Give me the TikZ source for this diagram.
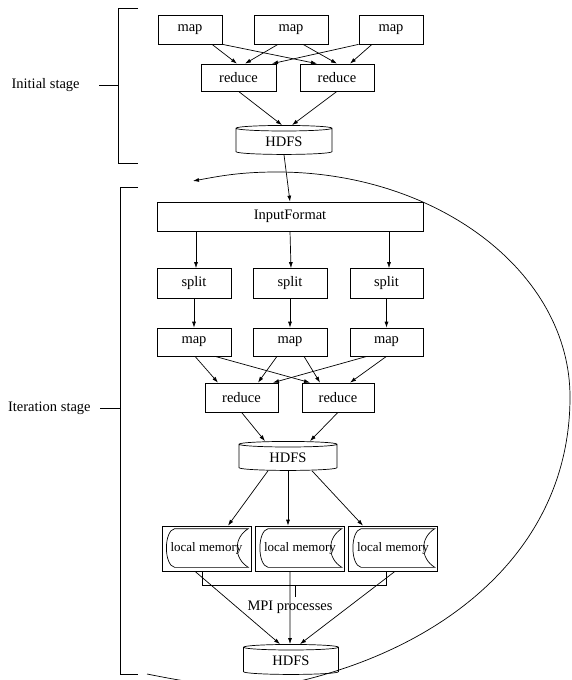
\documentclass[tikz,border=0pt]{standalone}
\usepackage{fontspec}
\setmainfont{Liberation Serif}
\usetikzlibrary{positioning,calc,arrows,arrows.meta,shapes.geometric}
\tikzset{>={Latex[length=6pt,width=4pt]}}
\tikzset{boxnode/.style={draw,rectangle,minimum height=29pt,inner sep=0pt}}
\tikzset{dbnode/.style={draw,cylinder,shape border rotate=90,aspect=0.15,minimum width=96pt,minimum height=29pt,inner sep=0pt}}
\tikzset{memnode/.style={draw,rectangle,minimum width=89pt,minimum height=45pt,inner sep=0pt,font=\fontsize{13}{15}\selectfont}}
\tikzset{stagelabel/.style={inner sep=0pt,anchor=east}}

\begin{document}
\begin{tikzpicture}[x=1pt,y=-1pt,line width=0.7pt,font=\fontsize{14.5}{17}\selectfont]
	\useasboundingbox (0,0) rectangle (571,680);

	% initial stage
	\node[boxnode,minimum width=64pt] (map1) at (190,29.5) {map};
	\node[boxnode,minimum width=74pt] (map2) at (291,29.5) {map};
	\node[boxnode,minimum width=64pt] (map3) at (391,29.5) {map};
	\node[boxnode,minimum width=75pt,minimum height=27pt] (red1) at (238.5,77.5) {reduce};
	\node[boxnode,minimum width=74pt,minimum height=27pt] (red2) at (337,77.5) {reduce};
	\node[dbnode] (hdfs1) at (284,141.5) {HDFS};

	\path[->]
		([xshift=22pt]map1.south) edge ([xshift=-1.5pt]red1.north)
		(map1.south east) edge ([xshift=-20pt]red2.north)
		([xshift=-13pt]map2.south) edge ([xshift=6.5pt]red1.north)
		([xshift=12pt]map2.south) edge (red2.north)
		(map3.south west) edge ([xshift=33.5pt]red1.north)
		([xshift=-19pt]map3.south) edge ([xshift=13pt]red2.north)
		(red1.south) edge ([xshift=-2pt]hdfs1.north)
		(red2.south) edge ([xshift=8pt]hdfs1.north)
		;

	\node[stagelabel] (lab1) at (80,85) {Initial stage};
	\draw (138,8) -- (118,8) -- (118,163) -- (138,163);
	\draw (99,85) -- (118,85);

	% iteration stage
	\node[boxnode,minimum width=266pt] (inf) at (290,216.5) {InputFormat};
	\node[boxnode,minimum width=74pt,minimum height=30pt] (spl1) at (194,283.5) {split};
	\node[boxnode,minimum width=74pt,minimum height=30pt] (spl2) at (290,283.5) {split};
	\node[boxnode,minimum width=73pt,minimum height=30pt] (spl3) at (386.5,283.5) {split};
	\node[boxnode,minimum width=74pt,minimum height=28pt] (imap1) at (194,342) {map};
	\node[boxnode,minimum width=74pt,minimum height=28pt] (imap2) at (290,342) {map};
	\node[boxnode,minimum width=73pt,minimum height=28pt] (imap3) at (386.5,342) {map};
	\node[boxnode,minimum width=73pt] (ired1) at (241.5,397.5) {reduce};
	\node[boxnode,minimum width=72pt] (ired2) at (338,397.5) {reduce};
	\node[dbnode,minimum width=98pt] (hdfs2) at (288,457.5) {HDFS};

	\draw[->] (hdfs1.south) -- (inf.north);
	\path[->]
		([xshift=2pt]inf.south -| spl1) edge ([xshift=2pt]spl1.north)
		(inf.south -| spl2) edge ([xshift=1pt]spl2.north)
		([xshift=2.5pt]inf.south -| spl3) edge ([xshift=2.5pt]spl3.north)
		(spl1.south) edge (imap1.north)
		(spl2.south) edge (imap2.north)
		(spl3.south) edge (imap3.north)
		;
	\path[->]
		([xshift=1pt]imap1.south) edge ([xshift=-23.5pt]ired1.north)
		([xshift=21pt]imap1.south) edge ([xshift=-28pt]ired2.north)
		([xshift=-13pt]imap2.south) edge ([xshift=16.5pt]ired1.north)
		([xshift=14pt]imap2.south) edge ([xshift=-18pt]ired2.north)
		([xshift=-19.5pt]imap3.south) edge ([xshift=31.5pt]ired1.north)
		(imap3.south) edge ([xshift=12pt]ired2.north)
		(ired1.south) edge ([xshift=-23pt]hdfs2.north)
		(ired2.south) edge ([xshift=22pt]hdfs2.north)
		;

	\node[memnode] (mem1) at (206.5,548.5) {local memory};
	\node[memnode] (mem2) at (300,548.5) {local memory};
	\node[memnode] (mem3) at (393,548.5) {local memory};
	\foreach \m in {mem1,mem2,mem3}{
		\draw ([shift={(13pt,-3pt)}]\m.north west) -- ([shift={(-3pt,-3pt)}]\m.north east)
			.. controls +(-15pt,-9pt) and +(-15pt,9pt) .. ([shift={(-3pt,4pt)}]\m.south east)
			-- ([shift={(13pt,4pt)}]\m.south west)
			.. controls +(-11pt,2pt) and +(-11pt,-2pt) .. ([shift={(13pt,-3pt)}]\m.north west);
	}

	\path[->]
		([xshift=-20pt]hdfs2.south) edge ([xshift=21.5pt]mem1.north)
		(hdfs2.south) edge ([xshift=-12pt]mem2.north)
		([xshift=24pt]hdfs2.south) edge ([xshift=-30pt]mem3.north)
		;

	\node[dbnode,minimum width=95pt,minimum height=30pt] (hdfs3) at (291,661) {HDFS};
	\path[->]
		([xshift=-11.5pt]mem1.south) edge ([xshift=-11pt]hdfs3.north)
		([xshift=-10pt]mem2.south) edge ([xshift=-1pt]hdfs3.north)
		([xshift=2pt]mem3.south) edge ([xshift=9pt]hdfs3.north)
		;

	\draw ([xshift=-4.5pt]mem1.south) -- ++(0,14) -| ([xshift=-7pt]mem3.south);
	\coordinate (mpitick) at (295,585);
	\draw (mpitick) -- ++(0,12);
	\node[inner sep=0pt] (mpi) at (290,607) {MPI processes};

	\node[stagelabel] (lab2) at (91,408) {Iteration stage};
	\draw (138,187) -- (120,187) -- (120,674) -- (138,674);
	\draw (100,408) -- (120,408);

	% loop back
	\coordinate (loopS) at (147,674);
	\coordinate (loopE) at (193,181);
	\draw[->] (loopS) .. controls (197,684) and (250,693) .. (300,681)
		.. controls (450,645) and (570,547) .. (570,397)
		.. controls (570,272) and (437,172) .. (277,172)
		.. controls (240,172) and (220,176) .. (loopE);
\end{tikzpicture}
\end{document}
